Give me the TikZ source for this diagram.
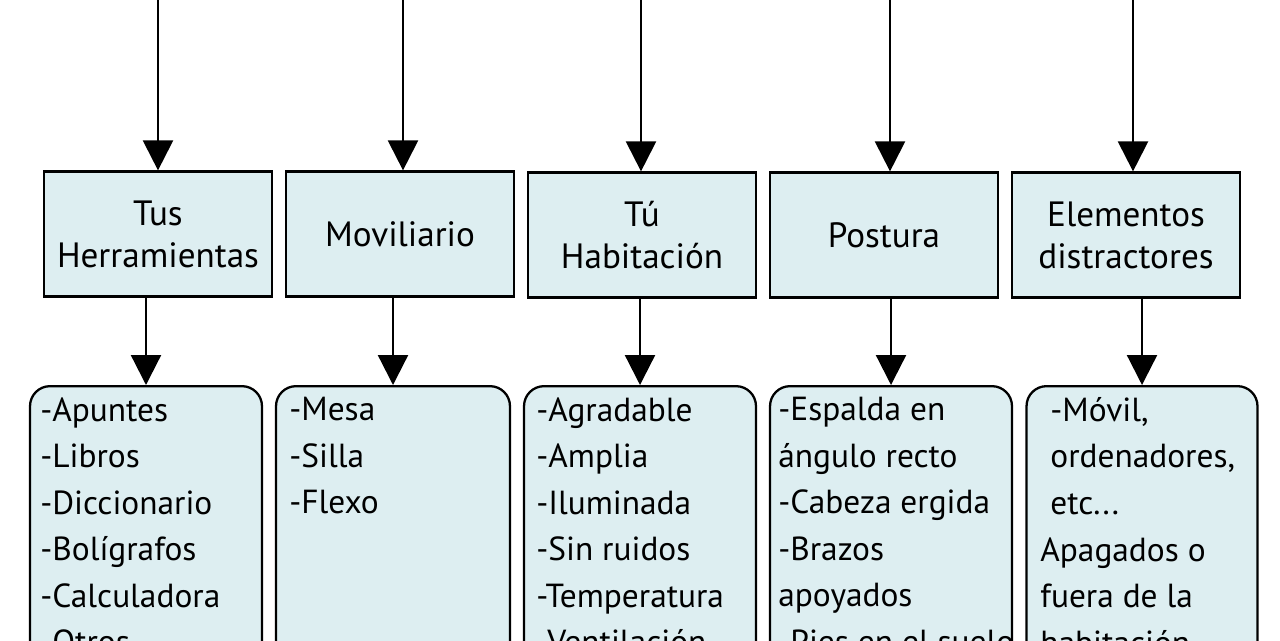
\documentclass[tikz,border=0pt]{standalone}
\usepackage{fontspec}
\setmainfont{PT Sans}
\usetikzlibrary{arrows.meta}
\definecolor{bx}{HTML}{DDEEF1}
\begin{document}
\begin{tikzpicture}[x=0.02cm,y=-0.02cm,
  top/.style={draw,line width=1.3pt,fill=bx,inner sep=0pt,minimum width=4.56cm,minimum height=2.5cm,align=center,font=\fontsize{20}{24}\selectfont},
  low/.style={draw,line width=1.3pt,fill=bx,rounded corners=0.4cm,anchor=north,minimum height=7cm,inner sep=0pt},
  txt/.style={anchor=north west,align=left,font=\fontsize{19}{26.5}\selectfont,inner sep=0pt},
  arr/.style={line width=1.3pt,-{Triangle[length=0.6cm,width=0.6cm]}}]
\useasboundingbox (0,0) rectangle (1280,640);
\clip (0,0) rectangle (1280,640);
\node[top] (t1) at (158,234) {Tus\\Herramientas};
\node[top] (t2) at (400,234) {Moviliario};
\node[top] (t3) at (642,235) {Tú\\Habitación};
\node[top] (t4) at (884,235) {Postura};
\node[top] (t5) at (1126,235) {Elementos\\distractores};
\node[low,minimum width=4.64cm] (l1) at (146,385) {};
\node[low,minimum width=4.68cm] (l2) at (393,385) {};
\node[low,minimum width=4.64cm] (l3) at (640,385) {};
\node[low,minimum width=4.84cm] (l4) at (891,385) {};
\node[low,minimum width=4.62cm] (l5) at (1142,385) {};
\foreach \i/\x in {1/158,2/403,3/641,4/890,5/1133}{
  \coordinate (s\i) at (\x,0);
  \draw[arr] (s\i) -- (s\i |- t\i.north);
  \draw[arr] (t\i.south -| l\i.north) -- (l\i.north);
}
\node[txt] (x1) at (40,397) {-Apuntes\\-Libros\\-Diccionario\\-Bolígrafos\\-Calculadora\\-Otros};
\node[txt] (x2) at (289,397) {-Mesa\\-Silla\\-Flexo};
\node[txt] (x3) at (536,397) {-Agradable\\-Amplia\\-Iluminada\\-Sin ruidos\\-Temperatura\\-Ventilación};
\node[txt] (x4) at (778,397) {-Espalda en\\ángulo recto\\-Cabeza ergida\\-Brazos\\apoyados\\-Pies en el suelo};
\node[txt] (x5) at (1040,397) {\hspace{0.2cm}-Móvil,\\\hspace{0.2cm}ordenadores,\\\hspace{0.2cm}etc...\\Apagados o\\fuera de la\\habitación};
\end{tikzpicture}
\end{document}
